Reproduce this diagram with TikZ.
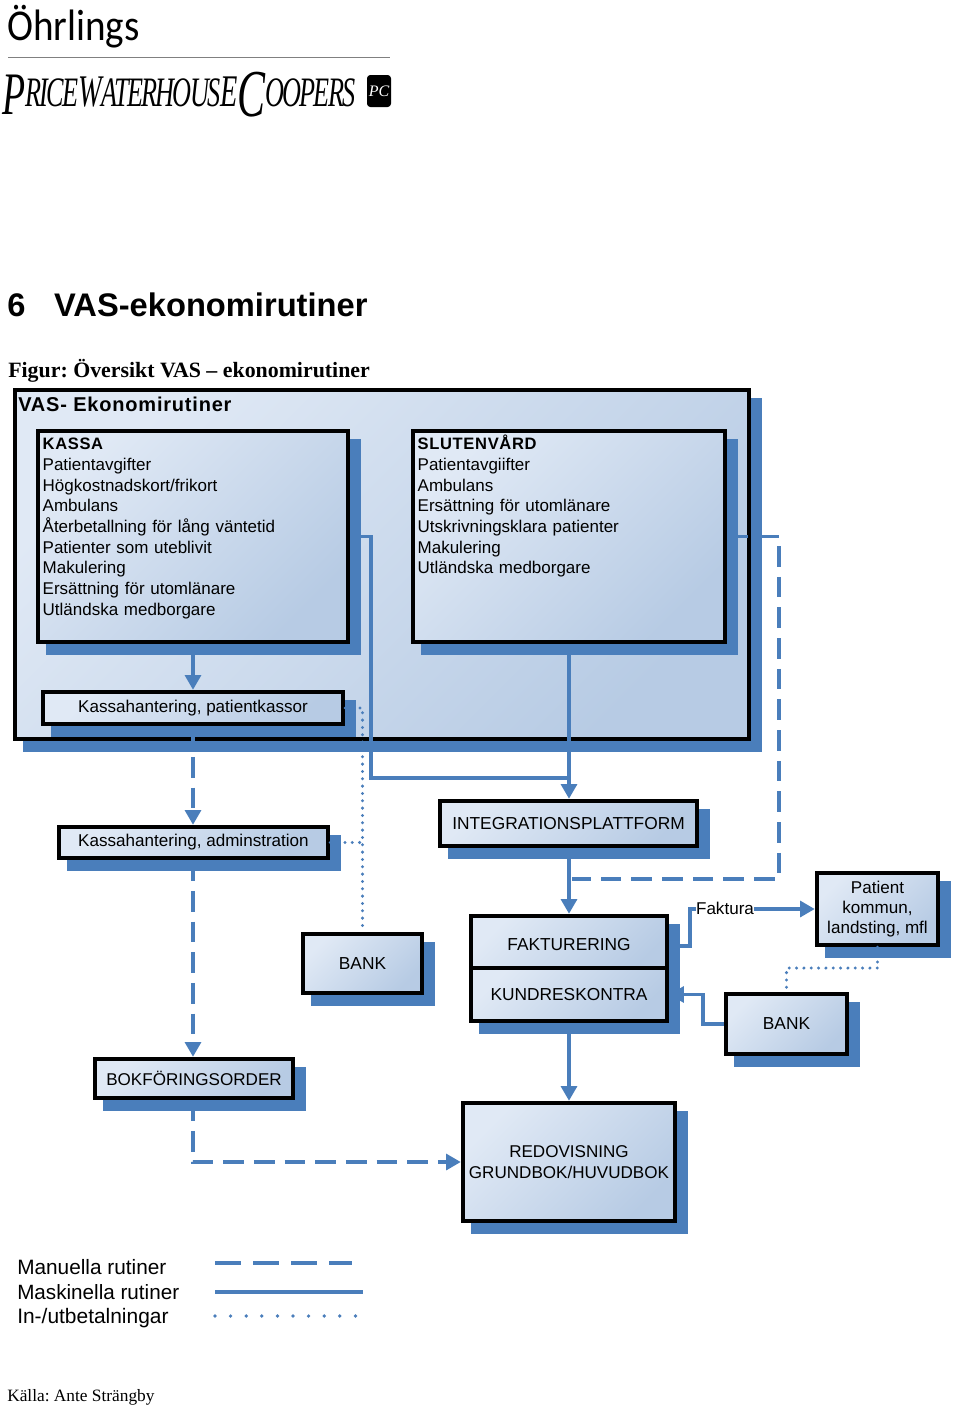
\documentclass[tikz,border=0pt]{standalone}
\usepackage{fontspec}
\setmainfont{Liberation Sans}
\newfontfamily\timesfont{Liberation Serif}
\newfontfamily\ohrfont{Carlito}
\newfontfamily\logofont[LetterSpace=-7]{Liberation Serif}
\newfontfamily\widefont[LetterSpace=4]{Liberation Sans}
\usetikzlibrary{positioning, shapes.geometric, arrows.meta, shadows}

\definecolor{pwcblue}{HTML}{4A7EBB}
\definecolor{palefill}{HTML}{E0E9F5}
\definecolor{deepfill}{HTML}{B7CBE4}

\tikzset{
    routebox/.style 2 args = { draw = black, line width = 3.4pt, minimum width = #1*.75pt, minimum height = #2*.75pt,
        left color = palefill, middle color = deepfill, right color = deepfill, shading angle = 45,
        general shadow = { fill = pwcblue, draw = pwcblue, shadow xshift = 8pt, shadow yshift = -8pt } },
    listbox/.style = { routebox = {#1}{211}, text width = #1*.75pt - 7pt, align = left, inner xsep = 3.5pt, inner ysep = 0pt,
        font = \fontsize{12.75}{15.5}\selectfont, text height = 14pt, text depth = 144.2pt },
    capsfont/.style = { font = \fontsize{13}{15.2}\selectfont },
    manual/.style = { draw = pwcblue, line width = 2.4pt, dash pattern = on 15.5pt off 7.5pt },
    machine/.style = { draw = pwcblue, line width = 2.4pt },
    payment/.style = { draw = pwcblue, line width = 2.5pt, line cap = round, dash pattern = on 0pt off 5.5pt },
    arrowtip/.style = { -{Triangle[width = 12pt, length = 11pt]} }
}
\newcommand{\listhead}[1]{{\fontsize{12.4}{15.5}\widefont\bfseries #1}}

\begin{document}
\frenchspacing
\begin{tikzpicture}[x = .75pt, y = -.75pt, every node/.style = { align = center, inner sep = 0pt, font = \fontsize{12.8}{15.2}\selectfont }]
    \useasboundingbox (0,0) rectangle (960,1406);

    % logo
    \node (ohrlings) [anchor = base west, font = \fontsize{33}{33}\ohrfont] at (7,40) {\scalebox{.89}[1]{Öhrlings}};
    \coordinate (ruleleft) at (8,57);
    \coordinate (ruleright) at (390,57);
    \draw [gray, line width = .7pt] (ruleleft) -- (ruleright);
    \node (pwc) [anchor = base west, font = \logofont\itshape] at (2,106) {\resizebox*{264.75pt}{33.75pt}{%
        \raisebox{-5pt}{\fontsize{36}{36}\selectfont P}{\fontsize{25}{25}\selectfont RICE}{\fontsize{27}{27}\selectfont W}{\fontsize{25}{25}\selectfont ATERHOUS}{\fontsize{27}{27}\selectfont E}\raisebox{-6pt}{\fontsize{40}{40}\selectfont C}{\fontsize{25}{25}\selectfont OOPERS}}};
    \node (seal) [fill = black, text = white, rounded corners = 2.5pt, minimum width = 18pt, minimum height = 24pt, font = \fontsize{12}{12}\timesfont\itshape] at (379,91) {PC};

    % headings
    \node (chapter) [anchor = base west, font = \fontsize{24.5}{24.5}\selectfont\bfseries] at (7,316) {6\hspace{21.5pt}VAS-ekonomirutiner};
    \node (figur) [anchor = base west, font = \fontsize{16.4}{16.4}\timesfont\bfseries] at (8,377) {Figur: Översikt VAS – ekonomirutiner};

    % boxes
    \node (main) [routebox = {734}{349}] at (382,564.5) {};
    \node (mainhead) [anchor = base west, font = \fontsize{15}{15}\widefont\bfseries] at (18,411) {VAS- Ekonomirutiner};
    \node (kassa) [listbox = 310] at (193,536.5) {
        \listhead{KASSA} \\ Patientavgifter \\ Högkostnadskort/frikort \\ Ambulans \\
        Återbetallning för lång väntetid \\ Patienter som uteblivit \\ Makulering \\ Ersättning för utomlänare \\ Utländska medborgare };
    \node (slutenvard) [listbox = 312] at (569,536.5) {
        \listhead{SLUTENVÅRD} \\ Patientavgiifter \\ Ambulans \\ Ersättning för utomlänare \\
        Utskrivningsklara patienter \\ Makulering \\ Utländska medborgare };
    \node (patientkassor) [routebox = {300}{32}] at (193,708) {Kassahantering, patientkassor};
    \node (adminstration) [routebox = {269}{31}] at (193.5,842.5) {Kassahantering, adminstration};
    \node (integration) [routebox = {257}{45}, capsfont] at (568.5,823.5) {INTEGRATIONSPLATTFORM};
    \node (bank) [routebox = {119}{59}, capsfont] at (362.5,963.5) {BANK};
    \node (fakturering) [routebox = {196}{57}, capsfont] at (569,944.5) {FAKTURERING};
    \node (kundreskontra) [routebox = {196}{53}, capsfont] at (569,994.5) {KUNDRESKONTRA};
    \node (patient) [routebox = {121}{72}] at (877.5,909) {Patient \\ kommun, \\ landsting, mfl};
    \node (bankright) [routebox = {121}{60}, capsfont] at (786.5,1024) {BANK};
    \node (bokforing) [routebox = {198}{39}] at (194,1078.5) {BOKFÖRINGSORDER};
    \node (redovisning) [routebox = {212}{118}] at (569,1162) {REDOVISNING \\ GRUNDBOK/HUVUDBOK};

    % bends
    \coordinate (kassabend) at (371,778);
    \coordinate (slutbend) at (779,879);
    \coordinate (slutend) at (572,879);
    \coordinate (faktbend) at (690,946);
    \coordinate (bankbend) at (703,1000);
    \coordinate (patientbend) at (878,968);
    \coordinate (bokbend) at (193,1162);

    % connectors
    \draw [machine, arrowtip] (kassa.south) -- (patientkassor.north);
    \draw [machine] (kassa.east) -| (kassabend) -- (kassabend -| slutenvard.south);
    \draw [machine, arrowtip] (slutenvard.south) -- (slutenvard.south |- integration.north);
    \draw [manual] (slutenvard.east) -| (slutbend) -- (slutend);
    \draw [manual, arrowtip] (patientkassor.south) -- (patientkassor.south |- adminstration.north);
    \draw [manual, arrowtip] (patientkassor.south |- adminstration.south) -- (patientkassor.south |- bokforing.north);
    \draw [payment] (patientkassor.east) -| (bank.north);
    \draw [payment] (adminstration.east) -- (adminstration.east -| bank.north);
    \draw [machine, arrowtip] (integration.south -| fakturering.north) -- (fakturering.north);
    \draw [machine, arrowtip] (faktbend -| fakturering.east) -| (faktbend) |- (patient.west);
    \draw [machine, arrowtip] (bankright.west) -| (bankbend) |- (kundreskontra.east);
    \draw [payment] (patient.south) |- (patientbend) -| (bankright.north);
    \draw [machine, arrowtip] (kundreskontra.south) -- (redovisning.north);
    \draw [manual, arrowtip] (bokforing.south -| bokbend) -- (bokbend) -- (redovisning.west);
    \node (faktura) [fill = white] at (725,908) {Faktura};

    % legend
    \node (manuella) [anchor = base west, font = \fontsize{15.6}{15.6}\selectfont] at (17,1274) {Manuella rutiner};
    \node (maskinella) [anchor = base west, font = \fontsize{15.5}{15.5}\selectfont] at (17,1299) {Maskinella rutiner};
    \node (utbetalningar) [anchor = base west, font = \fontsize{15.7}{15.7}\selectfont] at (17,1323) {In-/utbetalningar};
    \coordinate (manualfrom) at (215,1263);
    \coordinate (manualto) at (352,1263);
    \coordinate (machinefrom) at (215,1292);
    \coordinate (machineto) at (363,1292);
    \coordinate (paymentfrom) at (215,1316);
    \coordinate (paymentto) at (358,1316);
    \draw [manual, line width = 2.6pt, dash pattern = on 19.5pt off 9pt] (manualfrom) -- (manualto);
    \draw [machine, line width = 2.6pt] (machinefrom) -- (machineto);
    \draw [payment, line width = 2.8pt, dash pattern = on 0pt off 11.7pt] (paymentfrom) -- (paymentto);

    \node (kalla) [anchor = base west, font = \fontsize{13}{13}\timesfont] at (7,1401) {Källa: Ante Strängby};
\end{tikzpicture}
\end{document}
